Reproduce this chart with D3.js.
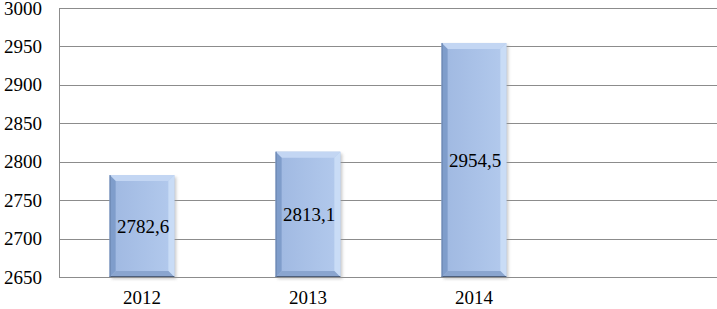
<!DOCTYPE html>
<html>
<head>
<meta charset="utf-8">
<script src="https://cdn.jsdelivr.net/npm/d3@7"></script>
<style>
  body { margin: 0; background: #fff; }
  svg { display: block; }
  text { font-family: "Liberation Serif", "Times New Roman", serif; fill: #000; }
</style>
</head>
<body>
<div id="chart"></div>
<script>
// data
var years = ["2012", "2013", "2014", ""];
var values = [2782.6, 2813.1, 2954.5, null];
var valueLabels = ["2782,6", "2813,1", "2954,5", ""];
var yTicks = [2650, 2700, 2750, 2800, 2850, 2900, 2950, 3000];

var W = 717, H = 309;
var plotLeft = 59, plotTop = 8, plotBottom = 277;

var svg = d3.select("#chart").append("svg")
    .attr("width", W).attr("height", H);

var defs = svg.append("defs");
var grad = defs.append("linearGradient").attr("id", "face")
    .attr("x1", "0").attr("x2", "1").attr("y1", "0").attr("y2", "0");
grad.append("stop").attr("offset", "0%").attr("stop-color", "#9fb8e1");
grad.append("stop").attr("offset", "100%").attr("stop-color", "#b3caed");

var blur = defs.append("filter").attr("id", "shadow")
    .attr("x", "-20%").attr("y", "-20%").attr("width", "140%").attr("height", "140%");
blur.append("feGaussianBlur").attr("stdDeviation", 1.5);

var x = d3.scaleBand()
    .domain(years.map(function (d, i) { return i; }))
    .range([plotLeft, 723])
    .paddingInner(0.61)
    .paddingOuter(0.305);

var y = d3.scaleLinear()
    .domain([2650, 3000])
    .range([plotBottom, plotTop]);

// gridlines
svg.append("g").selectAll("line")
    .data(yTicks)
    .enter().append("line")
    .attr("x1", plotLeft).attr("x2", W)
    .attr("y1", function (d) { return Math.round(y(d)) + 0.5; })
    .attr("y2", function (d) { return Math.round(y(d)) + 0.5; })
    .attr("stroke", "#8c8c8c").attr("stroke-width", 1);

// y axis line
svg.append("line")
    .attr("x1", plotLeft + 0.5).attr("x2", plotLeft + 0.5)
    .attr("y1", Math.round(y(3000)) + 0.5).attr("y2", Math.round(y(2650)) + 0.5)
    .attr("stroke", "#8c8c8c");

// y tick labels
svg.append("g").selectAll("text")
    .data(yTicks)
    .enter().append("text")
    .attr("x", 42)
    .attr("y", function (d) { return y(d) + 6.5; })
    .attr("text-anchor", "end")
    .style("font-size", "19px")
    .text(function (d) { return d; });

// category labels
svg.append("g").selectAll("text")
    .data(years)
    .enter().append("text")
    .attr("x", function (d, i) { return x(i) + x.bandwidth() / 2; })
    .attr("y", 304)
    .attr("text-anchor", "middle")
    .style("font-size", "19px")
    .text(function (d) { return d; });

// bars with a bevel
var bw = x.bandwidth();
var bv = 6;
var bars = svg.append("g").selectAll("g")
    .data(values.map(function (v, i) { return { v: v, i: i }; }).filter(function (d) { return d.v !== null; }))
    .enter().append("g");

bars.append("rect")
    .attr("x", function (d) { return x(d.i) + 2; })
    .attr("y", function (d) { return y(d.v) + 2; })
    .attr("width", bw)
    .attr("height", function (d) { return y(2650) - y(d.v); })
    .attr("fill", "#9a9a9a").attr("opacity", 0.5)
    .attr("filter", "url(#shadow)");

bars.append("rect")
    .attr("x", function (d) { return x(d.i); })
    .attr("y", function (d) { return y(d.v); })
    .attr("width", bw)
    .attr("height", function (d) { return y(2650) - y(d.v); })
    .attr("fill", "url(#face)");

function bevel(d, side) {
  var x0 = x(d.i), x1 = x(d.i) + bw, y0 = y(d.v), y1 = y(2650);
  var p;
  if (side === "top") p = [[x0, y0], [x1, y0], [x1 - bv, y0 + bv], [x0 + bv, y0 + bv]];
  if (side === "left") p = [[x0, y0], [x0 + bv, y0 + bv], [x0 + bv, y1 - bv], [x0, y1]];
  if (side === "right") p = [[x1, y0], [x1, y1], [x1 - bv, y1 - bv], [x1 - bv, y0 + bv]];
  if (side === "bottom") p = [[x0, y1], [x0 + bv, y1 - bv], [x1 - bv, y1 - bv], [x1, y1]];
  return p.map(function (q) { return q.join(","); }).join(" ");
}
var bevelColors = { top: "#c3d6f3", left: "#7f9dcb", right: "#c9dcf6", bottom: "#8aa5cf" };
["top", "left", "right", "bottom"].forEach(function (s) {
  bars.append("polygon")
      .attr("points", function (d) { return bevel(d, s); })
      .attr("fill", bevelColors[s]);
});

bars.append("line")
    .attr("x1", function (d) { return x(d.i); })
    .attr("x2", function (d) { return x(d.i) + bw; })
    .attr("y1", y(2650) - 0.5).attr("y2", y(2650) - 0.5)
    .attr("stroke", "#4d5f7c").attr("stroke-width", 1);
bars.append("line")
    .attr("x1", function (d) { return x(d.i) + 0.5; })
    .attr("x2", function (d) { return x(d.i) + 0.5; })
    .attr("y1", function (d) { return y(d.v); }).attr("y2", y(2650))
    .attr("stroke", "#6a84ad").attr("stroke-width", 1);

// value labels in the middle of each bar
bars.append("text")
    .attr("x", function (d) { return x(d.i) + bw / 2 + 1; })
    .attr("y", function (d) { return (y(d.v) + y(2650)) / 2 + 7; })
    .attr("text-anchor", "middle")
    .style("font-size", "19px")
    .text(function (d) { return valueLabels[d.i]; });
</script>
</body>
</html>
